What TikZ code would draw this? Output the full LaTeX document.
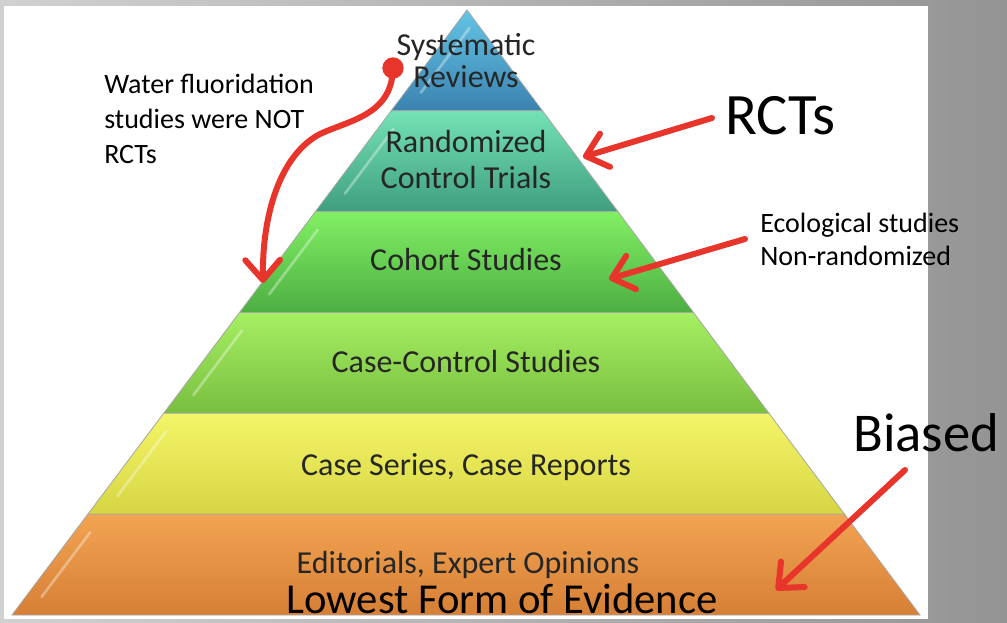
\documentclass[tikz,border=0pt]{standalone}
\usepackage{fontspec}
\setmainfont{Carlito}
\usetikzlibrary{arrows.meta,calc}
\definecolor{arrowred}{HTML}{E8352B}
\definecolor{srTop}{HTML}{64C4E4}\definecolor{srBot}{HTML}{3A82B0}
\definecolor{rcTop}{HTML}{74E2B4}\definecolor{rcBot}{HTML}{3F9E80}
\definecolor{coTop}{HTML}{82F064}\definecolor{coBot}{HTML}{4CAE42}
\definecolor{ccTop}{HTML}{A6F062}\definecolor{ccBot}{HTML}{78BE40}
\definecolor{csTop}{HTML}{F4F468}\definecolor{csBot}{HTML}{D6D644}
\definecolor{edTop}{HTML}{F2A452}\definecolor{edBot}{HTML}{D67F36}
\tikzstyle{layer}=[draw=black!35,line width=0.6pt]
\tikzstyle{gloss}=[white,opacity=0.35,line width=2pt,line cap=round]
\tikzstyle{lbl}=[text=black!85,inner sep=0pt,align=center,font=\fontsize{24}{24}\selectfont]
\tikzstyle{note}=[align=left,anchor=north west,inner sep=0pt,font=\fontsize{21}{26.25}\selectfont]
\tikzstyle{big}=[inner sep=0pt,font=\fontsize{41}{48}\selectfont]
\tikzstyle{redarrow}=[draw=arrowred,line width=4.5pt,line cap=round,-{Straight Barb[length=15pt,width=26pt,round]}]

\begin{document}
\begin{tikzpicture}[x=0.75pt,y=-0.75pt]
\useasboundingbox (0,0) rectangle (1007,623);
% slide frame
\shade[left color=black!18,right color=black!42] (0,0) rectangle (1007,623);
\fill[white] (4,6) rectangle (928,619);

% pyramid
\coordinate (apex) at (467,10);
\coordinate (bl) at (12,615);
\coordinate (br) at (920,615);
\foreach \i/\tc/\bc in {0/srTop/srBot,1/rcTop/rcBot,2/coTop/coBot,3/ccTop/ccBot,4/csTop/csBot,5/edTop/edBot}{
  \pgfmathsetmacro\a{\i/6}
  \pgfmathsetmacro\b{(\i+1)/6}
  \pgfmathsetmacro\ga{\a+0.03}
  \pgfmathsetmacro\gb{\b-0.03}
  \shade[layer,top color=\tc,bottom color=\bc] ($(apex)!\a!(bl)$) -- ($(apex)!\a!(br)$) -- ($(apex)!\b!(br)$) -- ($(apex)!\b!(bl)$) -- cycle;
  \draw[gloss] ($(apex)!\ga!(bl)+(16,0)$) -- ($(apex)!\gb!(bl)+(16,0)$);
}

\node[lbl] (sr) at (466,61) {Systematic\\Reviews};
\node[lbl,font=\fontsize{24}{27}\selectfont] (rct) at (466,160) {Randomized\\Control Trials};
\node[lbl,anchor=base] (co) at (466,271) {Cohort Studies};
\node[lbl,anchor=base] (cc) at (466,373) {Case-Control Studies};
\node[lbl,anchor=base] (cs) at (466,475) {Case Series, Case Reports};
\node[lbl,anchor=base] (ed) at (468,573) {Editorials, Expert Opinions};
\node[inner sep=0pt,anchor=base,font=\fontsize{32}{36}\selectfont] (low) at (502,613) {Lowest Form of Evidence};

% notes
\node[note] (wf) at (104,74) {Water fluoridation\\studies were NOT\\RCTs};
\node[note,font=\fontsize{21}{24.75}\selectfont] (eco) at (760,213) {Ecological studies\\Non-randomized};
\node[big,anchor=base west,font=\fontsize{44}{50}\selectfont] (rcts) at (725,135) {RCTs};
\node[big,anchor=base west] (bias) at (853,452) {Biased};

% red arrows
\node[circle,fill=arrowred,minimum size=16pt,inner sep=0pt] (wfdot) at (393,68) {};
\coordinate (wfTip) at (263,283);
\coordinate (rctTail) at (712,118);
\coordinate (rctTip) at (583,157);
\coordinate (ecoTail) at (745,239);
\coordinate (ecoTip) at (609,279);
\coordinate (biasTail) at (905,470);
\coordinate (biasTip) at (776,590);
\draw[redarrow] (wfdot.center) .. controls (392,115) and (350,120) .. (320,134) .. controls (280,155) and (262,215) .. (wfTip);
\draw[redarrow] (rctTail) -- (rctTip);
\draw[redarrow] (ecoTail) -- (ecoTip);
\draw[redarrow] (biasTail) -- (biasTip);
\end{tikzpicture}
\end{document}
